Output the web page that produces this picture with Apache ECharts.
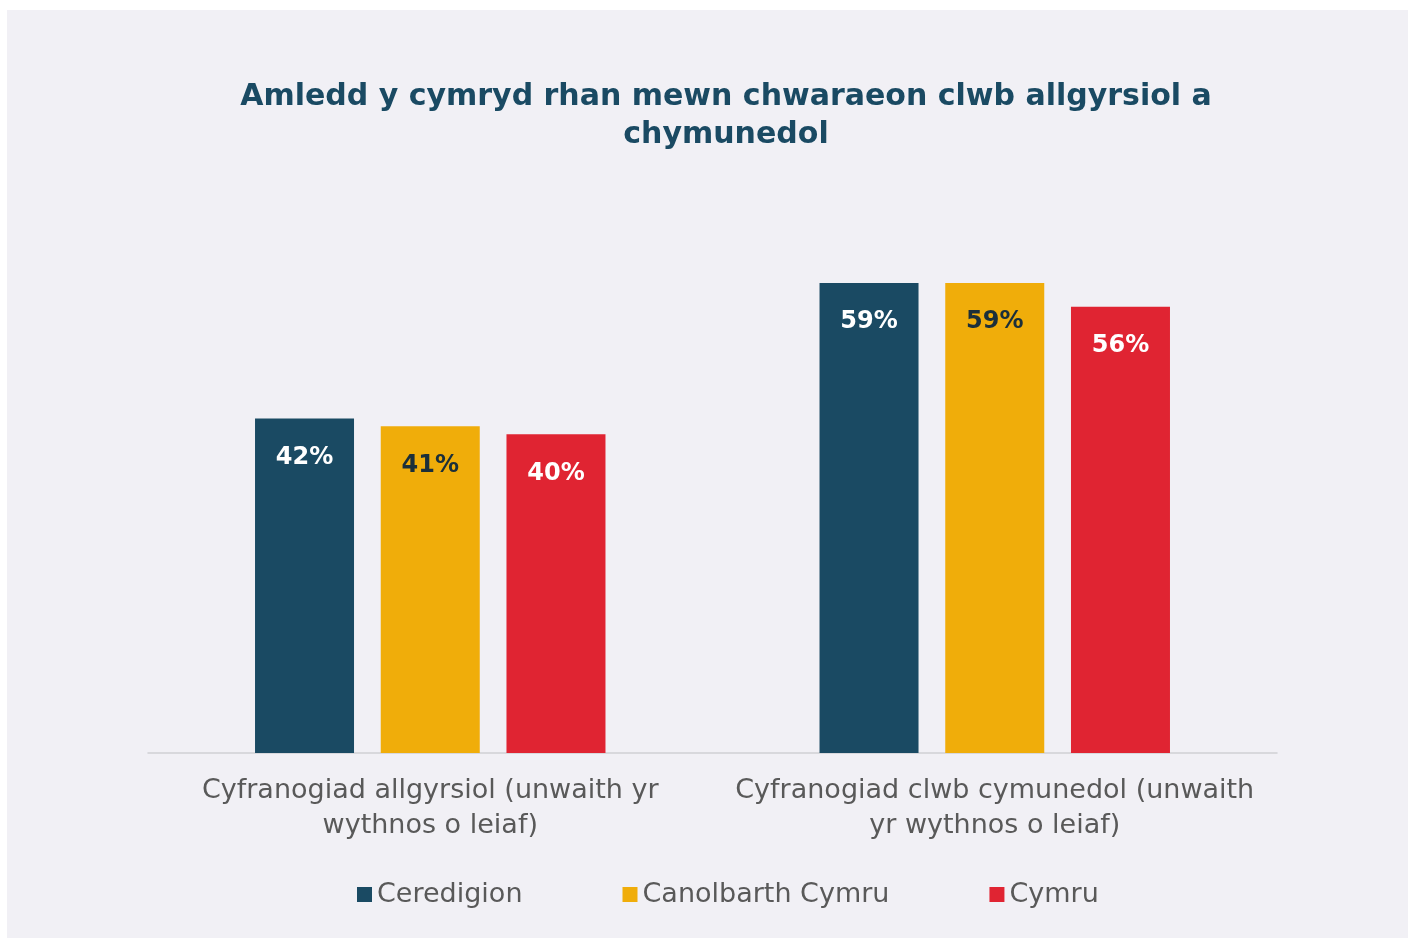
<!DOCTYPE html>
<html>
<head>
<meta charset="utf-8">
<script src="https://cdn.jsdelivr.net/npm/echarts@6/dist/echarts.min.js"></script>
<style>
html,body{margin:0;padding:0;background:#ffffff;}
#chart{width:1411px;height:938px;}
</style>
</head>
<body>
<div id="chart"></div>
<script>
const titleText = 'Amledd y cymryd rhan mewn chwaraeon clwb allgyrsiol a\nchymunedol';
const categories = [
  'Cyfranogiad allgyrsiol (unwaith yr\nwythnos o leiaf)',
  'Cyfranogiad clwb cymunedol (unwaith\nyr wythnos o leiaf)'
];
const seriesNames = ['Ceredigion', 'Canolbarth Cymru', 'Cymru'];
const ceredigion = [42, 59];
const canolbarth = [41, 59];
const cymru = [40, 56];

const colors = ['#1a4a63', '#f0ad0a', '#e02432'];
const labelColors = ['#ffffff', '#1b2f3a', '#ffffff'];
const font = "'DejaVu Sans', 'Noto Sans', sans-serif";

const chart = echarts.init(document.getElementById('chart'));
const dataSets = [ceredigion, canolbarth, cymru];

chart.setOption({
  backgroundColor: '#ffffff',
  graphic: [{
    type: 'rect', z: -10, silent: true,
    shape: {x: 7, y: 10, width: 1401, height: 928},
    style: {fill: '#f1f0f5'}
  }, {
    type: 'text', silent: true,
    x: 726, y: 78,
    style: {
      text: titleText,
      align: 'center',
      verticalAlign: 'top',
      fontFamily: font, fontSize: 30, fontWeight: 'bold',
      fill: '#1a4a63', lineHeight: 38
    }
  }],
  legend: {
    top: 876,
    left: 352,
    itemWidth: 15, itemHeight: 15, itemGap: 100,
    icon: 'rect',
    textStyle: {fontFamily: font, fontSize: 27, color: '#595959'},
    data: seriesNames
  },
  grid: {left: 148, right: 134, top: 275, bottom: 185, containLabel: false},
  xAxis: {
    type: 'category',
    data: categories,
    axisLine: {lineStyle: {color: '#d0d0d4', width: 1.5}},
    axisTick: {show: false},
    axisLabel: {
      interval: 0,
      fontFamily: font, fontSize: 27, color: '#595959',
      lineHeight: 35, margin: 20
    }
  },
  yAxis: {
    type: 'value', min: 0, max: 60, show: false,
    splitLine: {show: false}
  },
  series: dataSets.map((d, i) => ({
    name: seriesNames[i],
    type: 'bar',
    data: d,
    barWidth: 99,
    barGap: '27%',
    itemStyle: {color: colors[i]},
    label: {
      show: true,
      position: 'insideTop',
      distance: 27,
      formatter: '{c}%',
      fontFamily: font, fontSize: 24, fontWeight: 'bold',
      color: labelColors[i]
    }
  }))
});
</script>
</body>
</html>
